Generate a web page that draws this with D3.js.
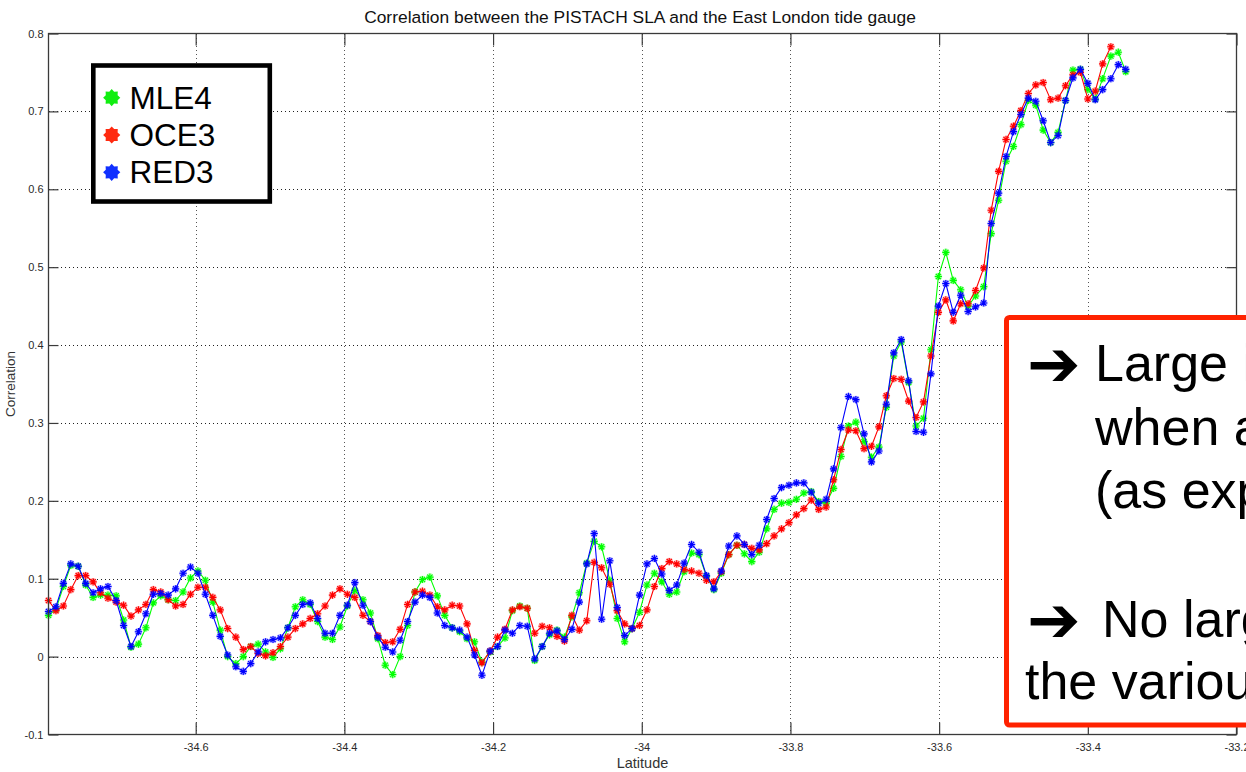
<!DOCTYPE html>
<html>
<head>
<meta charset="utf-8">
<script src="https://cdn.jsdelivr.net/npm/d3@7"></script>
<style>
  html, body { margin: 0; padding: 0; background: #fff; }
  svg { display: block; font-family: Arial, "Liberation Sans", Helvetica, sans-serif; }
</style>
</head>
<body>
<svg id="chart" width="1246" height="772"></svg>
<script>
// Along-track latitudes of the altimetry samples (degrees)
const latitude = [
  -34.798, -34.788, -34.778, -34.768, -34.758, -34.748, -34.738, -34.728, -34.718, -34.707,
  -34.697, -34.687, -34.677, -34.667, -34.657, -34.647, -34.637, -34.627, -34.617, -34.607,
  -34.597, -34.587, -34.577, -34.567, -34.557, -34.546, -34.536, -34.526, -34.516, -34.506,
  -34.496, -34.486, -34.476, -34.466, -34.456, -34.446, -34.436, -34.426, -34.416, -34.406,
  -34.396, -34.386, -34.375, -34.365, -34.355, -34.345, -34.335, -34.325, -34.315, -34.305,
  -34.295, -34.285, -34.275, -34.265, -34.255, -34.245, -34.235, -34.225, -34.215, -34.204,
  -34.194, -34.184, -34.174, -34.164, -34.154, -34.144, -34.134, -34.124, -34.114, -34.104,
  -34.094, -34.084, -34.074, -34.064, -34.054, -34.043, -34.033, -34.023, -34.013, -34.003,
  -33.993, -33.983, -33.973, -33.963, -33.953, -33.943, -33.933, -33.923, -33.913, -33.903,
  -33.893, -33.883, -33.872, -33.862, -33.852, -33.842, -33.832, -33.822, -33.812, -33.802,
  -33.792, -33.782, -33.772, -33.762, -33.752, -33.742, -33.732, -33.722, -33.712, -33.701,
  -33.691, -33.681, -33.671, -33.661, -33.651, -33.641, -33.631, -33.621, -33.611, -33.601,
  -33.591, -33.581, -33.571, -33.561, -33.551, -33.540, -33.530, -33.520, -33.510, -33.500,
  -33.490, -33.480, -33.470, -33.460, -33.450, -33.440, -33.430, -33.420, -33.410, -33.400,
  -33.390, -33.380, -33.369, -33.359, -33.349
];

// Correlation with the tide gauge, one value per sample, per retracker
const mle4 = [
  0.053, 0.061, 0.090, 0.117, 0.116, 0.092, 0.076, 0.079, 0.079, 0.078,
  0.047, 0.012, 0.016, 0.037, 0.069, 0.078, 0.073, 0.072, 0.083, 0.101,
  0.110, 0.098, 0.070, 0.034, 0.000, -0.009, 0.000, 0.013, 0.016, 0.006,
  -0.001, 0.010, 0.037, 0.064, 0.073, 0.067, 0.045, 0.025, 0.022, 0.038,
  0.065, 0.085, 0.073, 0.056, 0.023, -0.011, -0.023, 0.000, 0.040, 0.083,
  0.099, 0.102, 0.078, 0.053, 0.037, 0.032, 0.023, 0.019, -0.007, 0.006,
  0.013, 0.024, 0.059, 0.065, 0.062, -0.005, 0.013, 0.028, 0.034, 0.025,
  0.051, 0.082, 0.120, 0.148, 0.141, 0.098, 0.049, 0.019, 0.036, 0.057,
  0.092, 0.107, 0.096, 0.080, 0.083, 0.109, 0.133, 0.131, 0.103, 0.086,
  0.107, 0.131, 0.143, 0.132, 0.122, 0.134, 0.164, 0.189, 0.197, 0.198,
  0.202, 0.210, 0.212, 0.199, 0.197, 0.216, 0.257, 0.296, 0.301, 0.276,
  0.256, 0.269, 0.320, 0.386, 0.404, 0.352, 0.296, 0.306, 0.394, 0.488,
  0.519, 0.483, 0.471, 0.450, 0.463, 0.475, 0.543, 0.586, 0.636, 0.655,
  0.683, 0.714, 0.708, 0.676, 0.660, 0.673, 0.714, 0.753, 0.754, 0.728,
  0.716, 0.742, 0.771, 0.776, 0.751
];

const oce3 = [
  0.072, 0.059, 0.065, 0.086, 0.104, 0.104, 0.096, 0.082, 0.075, 0.070,
  0.066, 0.052, 0.060, 0.067, 0.086, 0.083, 0.073, 0.065, 0.067, 0.080,
  0.089, 0.089, 0.076, 0.060, 0.036, 0.025, 0.009, 0.013, 0.004, 0.001,
  0.005, 0.013, 0.025, 0.036, 0.042, 0.049, 0.055, 0.065, 0.079, 0.087,
  0.080, 0.076, 0.053, 0.045, 0.027, 0.018, 0.019, 0.035, 0.067, 0.083,
  0.084, 0.079, 0.064, 0.060, 0.066, 0.065, 0.042, 0.008, -0.008, 0.007,
  0.025, 0.035, 0.060, 0.064, 0.062, 0.030, 0.039, 0.037, 0.026, 0.020,
  0.053, 0.034, 0.046, 0.121, 0.114, 0.093, 0.059, 0.042, 0.036, 0.040,
  0.060, 0.090, 0.113, 0.122, 0.119, 0.112, 0.110, 0.107, 0.098, 0.096,
  0.109, 0.131, 0.143, 0.144, 0.139, 0.137, 0.145, 0.155, 0.164, 0.172,
  0.182, 0.190, 0.201, 0.189, 0.192, 0.227, 0.266, 0.291, 0.290, 0.267,
  0.270, 0.295, 0.335, 0.357, 0.356, 0.328, 0.307, 0.327, 0.386, 0.442,
  0.458, 0.431, 0.453, 0.453, 0.470, 0.499, 0.573, 0.623, 0.664, 0.681,
  0.701, 0.723, 0.734, 0.737, 0.715, 0.717, 0.733, 0.747, 0.750, 0.716,
  0.726, 0.761, 0.783, null, null
];

const red3 = [
  0.058, 0.064, 0.094, 0.119, 0.116, 0.094, 0.082, 0.087, 0.090, 0.072,
  0.040, 0.013, 0.032, 0.055, 0.080, 0.081, 0.079, 0.087, 0.107, 0.115,
  0.107, 0.080, 0.053, 0.026, 0.002, -0.013, -0.019, -0.009, 0.006, 0.019,
  0.022, 0.024, 0.037, 0.053, 0.067, 0.069, 0.049, 0.030, 0.030, 0.053,
  0.066, 0.095, 0.066, 0.045, 0.025, 0.012, 0.006, 0.021, 0.045, 0.070,
  0.079, 0.076, 0.056, 0.040, 0.037, 0.034, 0.025, 0.002, -0.024, 0.007,
  0.013, 0.034, 0.030, 0.040, 0.039, -0.003, 0.013, 0.030, 0.033, 0.022,
  0.035, 0.070, 0.119, 0.158, 0.048, 0.123, 0.063, 0.027, 0.036, 0.079,
  0.119, 0.126, 0.106, 0.085, 0.092, 0.120, 0.144, 0.134, 0.104, 0.087,
  0.110, 0.142, 0.155, 0.144, 0.131, 0.143, 0.176, 0.203, 0.217, 0.220,
  0.223, 0.223, 0.211, 0.197, 0.202, 0.241, 0.294, 0.334, 0.330, 0.286,
  0.250, 0.264, 0.324, 0.390, 0.407, 0.354, 0.289, 0.288, 0.363, 0.450,
  0.479, 0.442, 0.464, 0.443, 0.449, 0.454, 0.556, 0.595, 0.642, 0.674,
  0.696, 0.717, 0.713, 0.688, 0.660, 0.669, 0.714, 0.743, 0.754, 0.736,
  0.715, 0.728, 0.742, 0.760, 0.754
];

const seriesNames = ["MLE4", "OCE3", "RED3"];
const seriesColors = ["#00ff00", "#ff0000", "#0000ff"];
const legendColors = ["#11ee11", "#ff2a10", "#1030ff"];

const xTicks = [-34.6, -34.4, -34.2, -34, -33.8, -33.6, -33.4, -33.2];
const xTickLabels = ["-34.6", "-34.4", "-34.2", "-34", "-33.8", "-33.6", "-33.4", "-33.2"];
const yTicks = [-0.1, 0, 0.1, 0.2, 0.3, 0.4, 0.5, 0.6, 0.7, 0.8];
const yTickLabels = ["-0.1", "0", "0.1", "0.2", "0.3", "0.4", "0.5", "0.6", "0.7", "0.8"];

const chartTitle = "Correlation between the PISTACH SLA and the East London tide gauge";
const xLabel = "Latitude";
const yLabel = "Correlation";
const noteLines = [
  { arrow: true,  text: "Large increase" },
  { arrow: false, text: "when approaching the coast" },
  { arrow: false, text: "(as expected)" },
  { arrow: true,  text: "No large difference between" },
  { arrow: false, text: "the various retrackers" }
];

// ---------------------------------------------------------------------------
const svg = d3.select("#chart");
const W = 1246, H = 772;
const plot = { left: 48.5, right: 1236.5, top: 33.5, bottom: 734.5 };

const x = d3.scaleLinear().domain([-34.798, -33.2]).range([plot.left, plot.right]);
const y = d3.scaleLinear().domain([-0.1, 0.8]).range([plot.bottom, plot.top]);
const px = v => Math.round(v) + 0.5;

svg.append("rect").attr("width", W).attr("height", H).attr("fill", "#fff");

// dotted grid
const grid = svg.append("g").attr("shape-rendering", "crispEdges");
grid.selectAll("line.gx")
  .data(xTicks.filter(d => d > -34.79 && d < -33.21))
  .join("line")
  .attr("x1", d => px(x(d))).attr("x2", d => px(x(d)))
  .attr("y1", plot.top).attr("y2", plot.bottom)
  .attr("stroke", "#555").attr("stroke-width", 1).attr("stroke-dasharray", "1,3");
grid.selectAll("line.gy")
  .data(yTicks.filter(d => d > -0.09 && d < 0.79))
  .join("line")
  .attr("y1", d => px(y(d))).attr("y2", d => px(y(d)))
  .attr("x1", plot.left).attr("x2", plot.right)
  .attr("stroke", "#222").attr("stroke-width", 1).attr("stroke-dasharray", "1,3");

// series lines and asterisk markers
const starPath = "M-3.6,0H3.6M0,-3.6V3.6M-2.6,-2.6L2.6,2.6M-2.6,2.6L2.6,-2.6";
const allSeries = [mle4, oce3, red3];
const line = d3.line()
  .defined(d => d.v !== null)
  .x(d => x(d.lat))
  .y(d => y(d.v));

allSeries.forEach((vals, k) => {
  const pts = vals.map((v, i) => ({ lat: latitude[i], v: v }));
  const g = svg.append("g");
  g.append("path")
    .datum(pts)
    .attr("d", line)
    .attr("fill", "none")
    .attr("stroke", seriesColors[k])
    .attr("stroke-width", 1.1);
  const m = g.selectAll("g.mk")
    .data(pts.filter(d => d.v !== null))
    .join("g")
    .attr("transform", d => `translate(${x(d.lat)},${y(d.v)})`);
  m.append("circle").attr("r", 3.8).attr("fill", seriesColors[k]).attr("opacity", 0.3);
  m.append("path").attr("d", starPath).attr("stroke", seriesColors[k]).attr("stroke-width", 1.1);
});

// axes box with inward ticks on all four sides
const axisColor = "#3a3a3a";
const fmtX = d => xTickLabels[xTicks.indexOf(d)];
const fmtY = d => yTickLabels[yTicks.findIndex(t => Math.abs(t - d) < 1e-9)];

const gx = svg.append("g").attr("transform", `translate(0,${plot.bottom})`)
  .call(d3.axisBottom(x).tickValues(xTicks).tickSizeInner(-12).tickSizeOuter(0).tickPadding(9).tickFormat(fmtX));
const gxTop = svg.append("g").attr("transform", `translate(0,${plot.top})`)
  .call(d3.axisTop(x).tickValues(xTicks).tickSizeInner(-12).tickSizeOuter(0).tickFormat(""));
const gy = svg.append("g").attr("transform", `translate(${plot.left},0)`)
  .call(d3.axisLeft(y).tickValues(yTicks).tickSizeInner(-10).tickSizeOuter(0).tickPadding(5).tickFormat(fmtY));
const gyRight = svg.append("g").attr("transform", `translate(${plot.right},0)`)
  .call(d3.axisRight(y).tickValues(yTicks).tickSizeInner(-10).tickSizeOuter(0).tickFormat(""));

[gx, gxTop, gy, gyRight].forEach(g => {
  g.select(".domain").remove();
  g.selectAll(".tick line").attr("stroke", axisColor).attr("stroke-width", 1.2);
  g.selectAll(".tick text").attr("fill", "#2a2a2a").attr("font-size", 11)
    .attr("font-family", "Arial, 'Liberation Sans', sans-serif");
});

svg.append("rect")
  .attr("x", plot.left).attr("y", plot.top)
  .attr("width", plot.right - plot.left).attr("height", plot.bottom - plot.top)
  .attr("fill", "none").attr("stroke", axisColor).attr("stroke-width", 1.3);

// titles
svg.append("text")
  .attr("x", 640).attr("y", 23)
  .attr("text-anchor", "middle").attr("font-size", 17.4).attr("fill", "#111")
  .text(chartTitle);
svg.append("text")
  .attr("x", (plot.left + plot.right) / 2).attr("y", 768)
  .attr("text-anchor", "middle").attr("font-size", 14.5).attr("fill", "#333")
  .text(xLabel);
svg.append("text")
  .attr("transform", `translate(15,${(plot.top + plot.bottom) / 2}) rotate(-90)`)
  .attr("text-anchor", "middle").attr("font-size", 13.5).attr("fill", "#333")
  .text(yLabel);

// legend
const legend = svg.append("g");
legend.append("rect")
  .attr("x", 93.3).attr("y", 65.5).attr("width", 176.5).attr("height", 136)
  .attr("fill", "#fff").attr("stroke", "#000").attr("stroke-width", 4.6);
const starPoly = d3.range(16).map(j => {
  const a = j * Math.PI / 8 - Math.PI / 2;
  const r = j % 2 === 0 ? 8.6 : 6.4;
  return [r * Math.cos(a), r * Math.sin(a)];
});
seriesNames.forEach((name, k) => {
  const cy = 97.7 + k * 37.3;
  legend.append("polygon")
    .attr("points", starPoly.map(p => p.join(",")).join(" "))
    .attr("transform", `translate(111.7,${cy})`)
    .attr("fill", legendColors[k]);
  legend.append("text")
    .attr("x", 129.5).attr("y", cy + 10.8)
    .attr("font-size", 31.5).attr("fill", "#000")
    .text(name);
});

// annotation box on the right
const clip = svg.append("clipPath").attr("id", "canvasClip");
clip.append("rect").attr("width", W).attr("height", H);
const note = svg.append("g").attr("clip-path", "url(#canvasClip)");
note.append("rect")
  .attr("x", 1006.5).attr("y", 317.5).attr("width", 420).attr("height", 407.5)
  .attr("rx", 3)
  .attr("fill", "#fff").attr("stroke", "#ff2200").attr("stroke-width", 5);

const noteBaselines = [380.7, 445, 508.3, 636.7, 699.3];
noteLines.forEach((ln, i) => {
  const t = note.append("text")
    .attr("y", noteBaselines[i])
    .attr("font-size", 52).attr("fill", "#000");
  if (ln.arrow) {
    t.append("tspan").attr("x", 1027).attr("dy", 5)
      .attr("font-family", "'DejaVu Sans', sans-serif").attr("font-weight", "bold")
      .attr("font-size", 64)
      .text("\u2794");
    t.append("tspan").attr("x", i === 0 ? 1095 : 1102).attr("dy", -5).text(ln.text);
  } else {
    t.attr("x", i === 4 ? 1025 : 1095).text(ln.text);
  }
});
</script>
</body>
</html>
